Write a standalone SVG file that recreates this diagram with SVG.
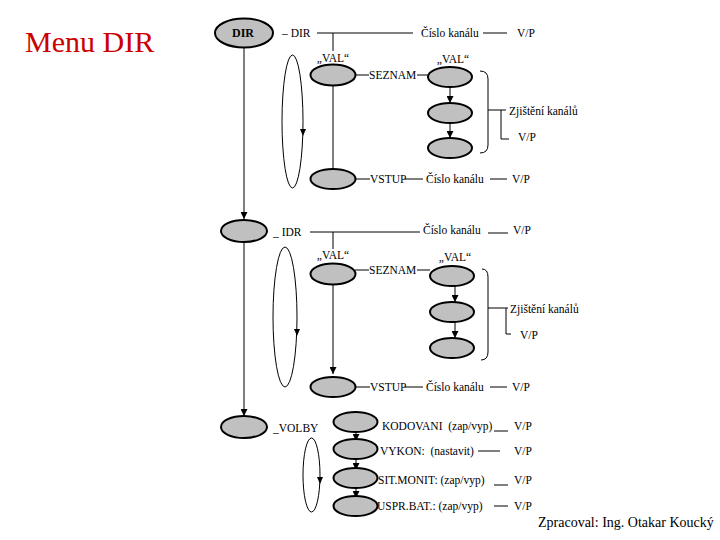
<svg xmlns="http://www.w3.org/2000/svg" width="720" height="540" viewBox="0 0 720 540">
<style>
text{font-family:"Liberation Serif","Times New Roman",serif;font-size:11.5px;fill:#000}
.n{fill:#c0c0c0;stroke:#000;stroke-width:2}
.l{stroke:#000;stroke-width:1;fill:none}
.title{font-size:30px;fill:#cc0000}
.foot{font-size:14px}
.b{font-weight:bold;font-size:12px}
.m{text-anchor:middle}
</style>
<defs>
<marker id="ah" viewBox="0 0 8 8" refX="8" refY="4" markerWidth="7" markerHeight="7" markerUnits="userSpaceOnUse" orient="auto">
<path d="M0,0 L8,4 L0,8 z" fill="#000"/>
</marker>
<polygon id="tri" points="-3,-4 3,-4 0,3" fill="#000"/>
</defs>
<rect width="720" height="540" fill="#fff"/>
<text class="title" x="25" y="52">Menu DIR</text>

<g id="connectors">
<!-- main column -->
<line class="l" x1="244" y1="48" x2="244" y2="219" marker-end="url(#ah)"/>
<line class="l" x1="244" y1="242" x2="244" y2="416" marker-end="url(#ah)"/>
<!-- section 1 -->
<line class="l" x1="317" y1="33" x2="413" y2="33"/>
<line class="l" x1="333" y1="33" x2="333" y2="51"/>
<line class="l" x1="483" y1="33" x2="507" y2="33"/>
<line class="l" x1="355" y1="75" x2="369" y2="75"/>
<line class="l" x1="417" y1="75" x2="428" y2="75"/>
<line class="l" x1="333" y1="85" x2="333" y2="168"/>
<line class="l" x1="450" y1="87" x2="450" y2="103" marker-end="url(#ah)"/>
<line class="l" x1="450" y1="123" x2="450" y2="138" marker-end="url(#ah)"/>
<path class="l" d="M480,71 Q488,71 488,79 L488,145 Q488,153 480,153"/>
<line class="l" x1="488" y1="110" x2="506" y2="110"/>
<path class="l" d="M501,110 L501,139 L509,139"/>
<line class="l" x1="355" y1="179" x2="370" y2="179"/>
<line class="l" x1="405" y1="179" x2="423" y2="179"/>
<line class="l" x1="490" y1="179" x2="507" y2="179"/>
<ellipse class="l" cx="292.5" cy="121.5" rx="10.5" ry="66.5"/>
<use href="#tri" x="303" y="133"/>
<!-- section 2 -->
<line class="l" x1="310" y1="232" x2="420" y2="232"/>
<line class="l" x1="333" y1="232" x2="333" y2="249"/>
<line class="l" x1="488" y1="233" x2="508" y2="233"/>
<line class="l" x1="355" y1="270" x2="369" y2="270"/>
<line class="l" x1="417" y1="270" x2="430" y2="270"/>
<line class="l" x1="333" y1="284" x2="333" y2="374" marker-end="url(#ah)"/>
<line class="l" x1="455" y1="286" x2="455" y2="302" marker-end="url(#ah)"/>
<line class="l" x1="455" y1="322" x2="455" y2="338" marker-end="url(#ah)"/>
<path class="l" d="M482,269 Q488,269 488,277 L488,352 Q488,360 481,360"/>
<line class="l" x1="488" y1="308" x2="508" y2="308"/>
<path class="l" d="M506,308 L506,334 L511,334"/>
<line class="l" x1="355" y1="387" x2="370" y2="387"/>
<line class="l" x1="405" y1="387" x2="423" y2="387"/>
<line class="l" x1="490" y1="387" x2="507" y2="387"/>
<ellipse class="l" cx="285" cy="317" rx="12" ry="70"/>
<use href="#tri" x="297" y="333"/>
<!-- section 3 -->
<line class="l" x1="356" y1="431" x2="356" y2="441" marker-end="url(#ah)"/>
<line class="l" x1="356" y1="458" x2="356" y2="470" marker-end="url(#ah)"/>
<line class="l" x1="356" y1="487" x2="356" y2="498" marker-end="url(#ah)"/>
<line class="l" x1="494" y1="431" x2="508" y2="431"/>
<line class="l" x1="478" y1="451" x2="500" y2="451"/>
<line class="l" x1="494" y1="485" x2="508" y2="485"/>
<line class="l" x1="494" y1="506" x2="508" y2="506"/>
<ellipse class="l" cx="311.5" cy="475" rx="8.5" ry="37"/>
<use href="#tri" x="320" y="481"/>
</g>

<g id="dir"><ellipse class="n" cx="244" cy="33" rx="29" ry="14.5"/><text class="b m" x="243" y="37">DIR</text></g>
<g id="idr"><ellipse class="n" cx="244" cy="231" rx="23" ry="11"/></g>
<g id="volby"><ellipse class="n" cx="244" cy="427" rx="23" ry="11"/></g>

<g id="s1-val"><ellipse class="n" cx="333" cy="75" rx="22.5" ry="10.5"/></g>
<g id="s1-r1"><ellipse class="n" cx="450" cy="77" rx="22" ry="10"/></g>
<g id="s1-r2"><ellipse class="n" cx="450" cy="113" rx="22" ry="10"/></g>
<g id="s1-r3"><ellipse class="n" cx="450" cy="148" rx="22" ry="10"/></g>
<g id="s1-vstup"><ellipse class="n" cx="333" cy="179" rx="22.5" ry="10"/></g>

<g id="s2-val"><ellipse class="n" cx="333" cy="274" rx="22.5" ry="10.5"/></g>
<g id="s2-r1"><ellipse class="n" cx="452" cy="276" rx="22" ry="10"/></g>
<g id="s2-r2"><ellipse class="n" cx="452" cy="312" rx="22" ry="10"/></g>
<g id="s2-r3"><ellipse class="n" cx="452" cy="348" rx="22" ry="10"/></g>
<g id="s2-vstup"><ellipse class="n" cx="333" cy="387" rx="22.5" ry="10"/></g>

<g id="v1"><ellipse class="n" cx="355.5" cy="422" rx="22" ry="10"/></g>
<g id="v2"><ellipse class="n" cx="355.5" cy="449" rx="22" ry="10"/></g>
<g id="v3"><ellipse class="n" cx="355.5" cy="478" rx="22" ry="10"/></g>
<g id="v4"><ellipse class="n" cx="355.5" cy="506" rx="22" ry="10"/></g>

<g id="labels">
<text x="282" y="37">– DIR</text>
<text x="421" y="37">Číslo kanálu</text>
<text x="517" y="37">V/P</text>
<text class="m" x="333" y="62">„VAL“</text>
<text x="369" y="79">SEZNAM</text>
<text class="m" x="453" y="63">„VAL“</text>
<text x="509" y="115">Zjištění kanálů</text>
<text x="518" y="141">V/P</text>
<text x="370" y="183">VSTUP</text>
<text x="426" y="183">Číslo kanálu</text>
<text x="512" y="183">V/P</text>

<text x="273" y="236">_ IDR</text>
<text x="423" y="234">Číslo kanálu</text>
<text x="513" y="234">V/P</text>
<text class="m" x="333" y="259">„VAL“</text>
<text x="369" y="274">SEZNAM</text>
<text class="m" x="455" y="261">„VAL“</text>
<text x="510" y="313">Zjištění kanálů</text>
<text x="520" y="339">V/P</text>
<text x="370" y="391">VSTUP</text>
<text x="426" y="391">Číslo kanálu</text>
<text x="512" y="391">V/P</text>

<text x="273" y="432">_VOLBY</text>
<text x="382" y="430" xml:space="preserve">KODOVANI  (zap/vyp)</text>
<text x="514" y="430">V/P</text>
<text x="380" y="455" xml:space="preserve">VYKON:  (nastavit)</text>
<text x="514" y="455">V/P</text>
<text x="378" y="484">SIT.MONIT: (zap/vyp)</text>
<text x="514" y="484">V/P</text>
<text x="377" y="510">USPR.BAT.: (zap/vyp)</text>
<text x="514" y="510">V/P</text>
</g>
<text class="foot" x="538" y="527">Zpracoval: Ing. Otakar Koucký</text>
</svg>
